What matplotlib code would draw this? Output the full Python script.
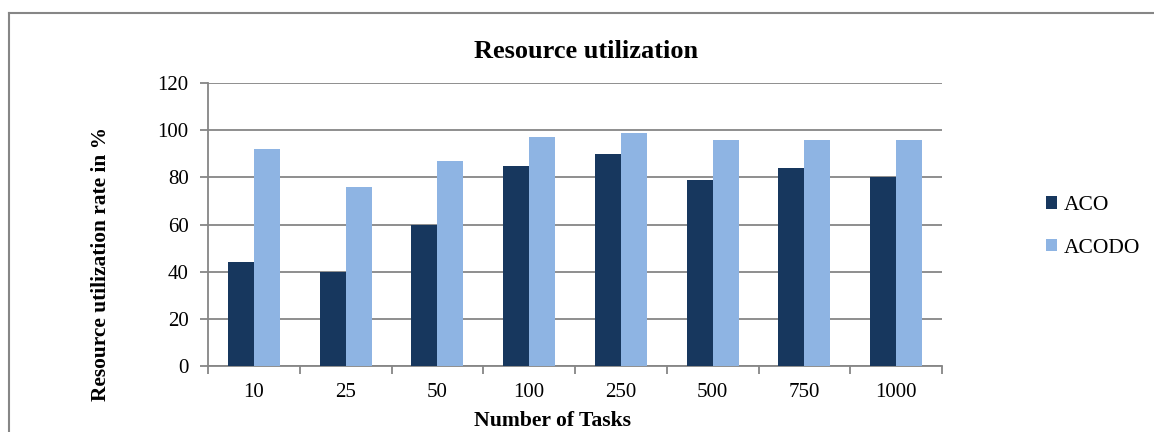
import matplotlib
matplotlib.use("Agg")
import matplotlib.pyplot as plt
from matplotlib.lines import Line2D
from matplotlib.patches import Patch
import numpy as np

tasks = ["10", "25", "50", "100", "250", "500", "750", "1000"]
aco = [44, 40, 60, 85, 90, 79, 84, 80]
acodo = [92, 76, 87, 97, 99, 96, 96, 96]
series_names = ["ACO", "ACODO"]
yticks = [0, 20, 40, 60, 80, 100, 120]

dark = "#17375E"
light = "#8EB4E3"
axis_gray = "#868686"

plt.rcParams["font.family"] = ["Liberation Serif", "DejaVu Serif"]

W, H = 1154, 432
fig = plt.figure(figsize=(W / 100, H / 100), dpi=100)
ax = fig.add_axes([208 / W, 1 - 366 / H, (942 - 208) / W, (366 - 83) / H])

n = len(tasks)
idx = np.arange(n)
bw = 0.283
ax.bar(idx + 0.5 - bw / 2, aco, width=bw, color=dark, zorder=3)
ax.bar(idx + 0.5 + bw / 2, acodo, width=bw, color=light, zorder=3)

ax.set_xlim(0, n)
ax.set_ylim(0, 120)
ax.set_yticks(yticks)
ax.set_yticklabels([str(v) for v in yticks], fontsize=15)
ax.yaxis.grid(True, color=axis_gray, linewidth=1.3, zorder=0)
ax.set_axisbelow(True)

# category boundaries carry the tick marks, centres carry the labels
ax.set_xticks(np.arange(n + 1))
ax.set_xticklabels([])
ax.set_xticks(idx + 0.5, minor=True)
ax.set_xticklabels(tasks, minor=True, fontsize=15)
ax.tick_params(axis="x", which="major", length=6, width=1.3, color=axis_gray, direction="out")
ax.tick_params(axis="x", which="minor", length=0, pad=12)
ax.tick_params(axis="y", length=6, width=1.3, color=axis_gray, pad=8)

for side in ["top", "right"]:
    ax.spines[side].set_visible(False)
for side in ["left", "bottom"]:
    ax.spines[side].set_color(axis_gray)
    ax.spines[side].set_linewidth(1.3)

fig.text(586 / W, 1 - 51 / H, "Resource utilization", ha="center", va="center",
         fontsize=19, fontweight="bold")
fig.text(552 / W, 1 - 421 / H, "Number of Tasks", ha="center", va="center",
         fontsize=15.6, fontweight="bold")
fig.text(101 / W, 1 - 264 / H, "Resource utilization rate in %", ha="center",
         va="center", rotation=90, fontsize=15.4, fontweight="bold")

handles = [Patch(facecolor=dark), Patch(facecolor=light)]
fig.legend(handles, series_names, loc="center left",
           bbox_to_anchor=(1027 / W, 1 - 227 / H), frameon=False, fontsize=15.5,
           handlelength=0.5, handleheight=0.5, handletextpad=0.3, labelspacing=1.1)

# outer chart border (top and left edges visible)
fig.add_artist(Line2D([8.5 / W, 8.5 / W], [0, 1 - 12.5 / H], transform=fig.transFigure,
                      color=axis_gray, linewidth=1.5))
fig.add_artist(Line2D([8.5 / W, 1], [1 - 12.5 / H, 1 - 12.5 / H], transform=fig.transFigure,
                      color=axis_gray, linewidth=1.5))

fig.savefig("out.png", dpi=100)
